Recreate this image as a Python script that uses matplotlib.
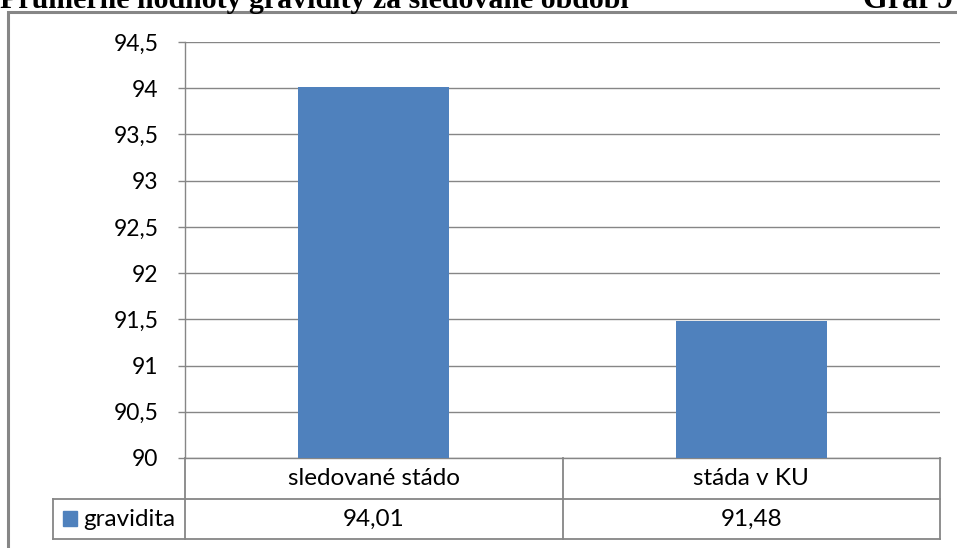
import matplotlib.pyplot as plt
from matplotlib.patches import Rectangle
from matplotlib.lines import Line2D

# data
kategorie = ['sledované stádo', 'stáda v KU']
gravidita = [94.01, 91.48]
serie = 'gravidita'
y_ticks = [90, 90.5, 91, 91.5, 92, 92.5, 93, 93.5, 94, 94.5]

W, H = 957, 548
barva = '#4F81BD'
seda = '#868686'
pismo = ['Lato', 'DejaVu Sans']
velikost = 16.5
velikost_tab = 17.5

fig = plt.figure(figsize=(W / 100, H / 100), dpi=100)


def fx(px):
    return px / W


def fy(py):
    return 1 - py / H


# vnější rámeček grafu
fig.patches.append(Rectangle((fx(8), fy(600)), fx(1000), fy(12) - fy(600),
                             transform=fig.transFigure, fill=False,
                             edgecolor=seda, linewidth=2.2))

# nadpis
fig.text(fx(0), fy(8), 'Průměrné hodnoty gravidity za sledované období',
         family='Liberation Serif', weight='bold', fontsize=21.5,
         ha='left', va='baseline')
fig.text(fx(953), fy(8), 'Graf 9', family='Liberation Serif', weight='bold',
         fontsize=23, ha='right', va='baseline')

# oblast grafu
left, right, top, bottom = 185, 940, 42, 458
ax = fig.add_axes([fx(left), fy(bottom), fx(right) - fx(left), fy(top) - fy(bottom)])
x = list(range(len(kategorie)))
ax.bar(x, gravidita, width=0.4, color=barva, zorder=3)
ax.set_xlim(-0.5, len(kategorie) - 0.5)
ax.set_ylim(90, 94.5)
ax.set_yticks(y_ticks)
ax.set_yticklabels([f'{t:g}'.replace('.', ',') for t in y_ticks],
                   family=pismo, fontsize=velikost)
ax.tick_params(axis='y', length=5, width=1, color=seda, pad=14)
ax.set_xticks([])
ax.yaxis.grid(True, color=seda, linewidth=1, zorder=0)
for s in ['top', 'right']:
    ax.spines[s].set_visible(False)
for s in ['left', 'bottom']:
    ax.spines[s].set_color(seda)
    ax.spines[s].set_linewidth(1)

# tabulka dat pod grafem
row1, row2, row3 = 458, 499, 539
legend_left = 53
col_w = (right - left) / len(kategorie)
cary = []
for i in range(len(kategorie) + 1):
    xc = left + i * col_w
    cary.append(([xc, xc], [row1, row3]))
cary.append(([legend_left, right], [row2, row2]))
cary.append(([legend_left, right], [row3, row3]))
cary.append(([legend_left, legend_left], [row2, row3]))
for xs, ys in cary:
    fig.add_artist(Line2D([fx(v) for v in xs], [fy(v) for v in ys],
                          transform=fig.transFigure, color=seda, linewidth=1.3))

for i, (kat, hod) in enumerate(zip(kategorie, gravidita)):
    xc = left + (i + 0.5) * col_w
    fig.text(fx(xc), fy((row1 + row2) / 2), kat, family=pismo, fontsize=velikost_tab,
             ha='center', va='center')
    fig.text(fx(xc), fy((row2 + row3) / 2), f'{hod:.2f}'.replace('.', ','),
             family=pismo, fontsize=velikost_tab, ha='center', va='center')

# legenda v tabulce
fig.patches.append(Rectangle((fx(63), fy(526)), fx(14), fy(511) - fy(526),
                             transform=fig.transFigure, color=barva))
fig.text(fx(83), fy((row2 + row3) / 2), serie, family=pismo, fontsize=velikost_tab,
         ha='left', va='center')

fig.savefig('out.png', dpi=100)
